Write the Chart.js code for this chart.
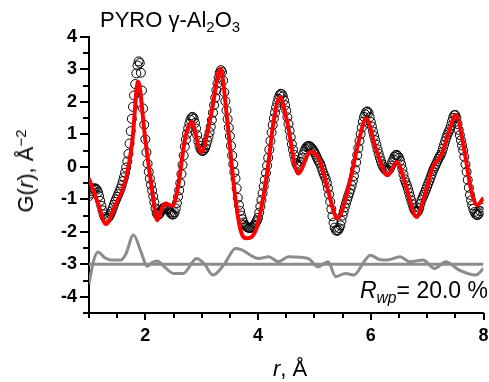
<!DOCTYPE html>
<html>
<head>
<meta charset="utf-8">
<script src="https://cdn.jsdelivr.net/npm/chart.js@4.4.1/dist/chart.umd.min.js"></script>
<style>
  html, body { margin: 0; padding: 0; background: #fff; }
  #wrap { position: relative; width: 489px; height: 382px; overflow: hidden; }
  #chart { position: absolute; left: 0; top: 0; }
  .lbl { position: absolute; white-space: nowrap; line-height: 1; color: #000;
         font-family: Arial, "Liberation Sans", Helvetica, sans-serif; }
  .sub { font-size: 0.68em; position: relative; top: 0.32em; }
  .sup { font-size: 0.68em; position: relative; top: -0.45em; }
  #title { left: 100px; top: 9px; font-size: 22px; }
  #ylab { left: 26px; top: 171px; font-size: 22px; transform: translate(-50%, -50%) rotate(-90deg); }
  #xlab { left: 290px; top: 358px; font-size: 22px; transform: translateX(-50%); }
  #rwp { right: 1px; top: 279px; font-size: 23px; }
</style>
</head>
<body>
<div id="wrap">
  <canvas id="chart" width="489" height="382"></canvas>
  <div class="lbl" id="title">PYRO γ-Al<span class="sub">2</span>O<span class="sub">3</span></div>
  <div class="lbl" id="ylab">G(<i>r</i>), Å<span class="sup">−2</span></div>
  <div class="lbl" id="xlab"><i>r</i>, Å</div>
  <div class="lbl" id="rwp"><i>R<span class="sub">wp</span></i>= 20.0 %</div>
</div>
<script>
// observed G(r), sampled every 0.02 A from r = 1.00 to 8.00 (one row = 0.5 A)
const rStart = 1.0;
const rStep = 0.02;
const gObs = [
  -0.90, -0.82, -0.75, -0.70, -0.67, -0.66, -0.67, -0.70, -0.78, -0.90, -1.05, -1.20, -1.34, -1.46, -1.55, -1.60, -1.60, -1.57, -1.52, -1.45, -1.37, -1.27, -1.17, -1.08, -1.00,
  -0.92, -0.84, -0.76, -0.67, -0.56, -0.44, -0.32, -0.18, -0.02, 0.17, 0.40, 0.72, 1.10, 1.48, 1.85, 2.20, 2.55, 2.88, 3.12, 3.25, 3.20, 2.90, 2.35, 1.80, 1.30,
  0.85, 0.45, 0.10, -0.15, -0.36, -0.55, -0.73, -0.91, -1.09, -1.28, -1.42, -1.48, -1.47, -1.42, -1.35, -1.30, -1.27, -1.25, -1.25, -1.27, -1.30, -1.35, -1.40, -1.44, -1.47,
  -1.46, -1.40, -1.28, -1.11, -0.92, -0.72, -0.50, -0.22, 0.06, 0.35, 0.62, 0.84, 1.02, 1.18, 1.33, 1.45, 1.52, 1.54, 1.48, 1.35, 1.18, 0.98, 0.80, 0.65, 0.55,
  0.50, 0.49, 0.52, 0.58, 0.68, 0.80, 0.93, 1.07, 1.24, 1.44, 1.67, 1.90, 2.13, 2.36, 2.57, 2.75, 2.90, 2.98, 2.92, 2.66, 2.30, 2.02, 1.74, 1.47, 1.21,
  0.95, 0.65, 0.35, 0.08, -0.16, -0.36, -0.66, -0.95, -1.18, -1.36, -1.50, -1.61, -1.71, -1.78, -1.82, -1.85, -1.87, -1.88, -1.88, -1.87, -1.85, -1.82, -1.78, -1.71, -1.65,
  -1.57, -1.41, -1.22, -1.02, -0.81, -0.60, -0.40, -0.19, 0.04, 0.28, 0.53, 0.80, 1.06, 1.29, 1.49, 1.67, 1.83, 1.97, 2.10, 2.20, 2.25, 2.24, 2.17, 2.05, 1.90,
  1.73, 1.53, 1.32, 1.12, 0.91, 0.70, 0.53, 0.37, 0.22, 0.10, 0.03, 0.02, 0.07, 0.16, 0.27, 0.38, 0.47, 0.55, 0.61, 0.64, 0.64, 0.63, 0.60, 0.56, 0.51,
  0.45, 0.38, 0.30, 0.22, 0.16, 0.10, 0.01, -0.10, -0.20, -0.28, -0.37, -0.50, -0.66, -0.85, -1.07, -1.30, -1.52, -1.72, -1.87, -1.95, -1.97, -1.95, -1.89, -1.80, -1.66,
  -1.50, -1.37, -1.24, -1.12, -1.01, -0.90, -0.80, -0.69, -0.57, -0.43, -0.28, -0.08, 0.14, 0.36, 0.58, 0.80, 1.01, 1.21, 1.39, 1.54, 1.62, 1.69, 1.71, 1.66, 1.53,
  1.38, 1.24, 1.09, 0.95, 0.82, 0.68, 0.54, 0.41, 0.29, 0.18, 0.08, 0.01, -0.05, -0.09, -0.12, -0.13, -0.10, -0.04, 0.04, 0.14, 0.23, 0.31, 0.36, 0.37, 0.34,
  0.28, 0.19, 0.07, -0.07, -0.23, -0.38, -0.48, -0.57, -0.68, -0.80, -0.92, -1.04, -1.15, -1.26, -1.34, -1.39, -1.40, -1.36, -1.27, -1.14, -1.02, -0.94, -0.86, -0.78, -0.69,
  -0.60, -0.51, -0.42, -0.33, -0.23, -0.13, -0.05, 0.02, 0.09, 0.17, 0.25, 0.31, 0.37, 0.45, 0.56, 0.68, 0.79, 0.90, 0.99, 1.07, 1.15, 1.26, 1.39, 1.51, 1.59,
  1.60, 1.50, 1.32, 1.14, 0.98, 0.82, 0.66, 0.51, 0.31, 0.08, -0.15, -0.40, -0.64, -0.86, -1.03, -1.18, -1.29, -1.39, -1.45, -1.48, -1.48, -1.44, -1.36, -1.25, -1.17,
  -1.13
];

// fitted curve
const rFit = [1.00, 1.08, 1.16, 1.30, 1.48, 1.65, 1.77, 1.87, 2.00, 2.12, 2.21, 2.30, 2.36, 2.48, 2.58,
  2.70, 2.82, 2.99, 3.17, 3.33, 3.46, 3.58, 3.69, 3.80, 3.98, 4.16, 4.27, 4.39, 4.51, 4.71,
  4.93, 5.09, 5.24, 5.41, 5.62, 5.79, 5.92, 6.08, 6.30, 6.46, 6.63, 6.81, 6.95, 7.10, 7.25,
  7.36, 7.51, 7.65, 7.77, 7.89, 8.00];
const gFit = [-0.36, -0.75, -1.13, -1.76, -1.13, -0.41, 0.82, 2.62, 0.82, -0.72, -1.64, -1.25, -1.13, -1.20, -0.62,
  0.82, 1.38, 0.45, 1.64, 3.03, 1.33, -0.72, -1.95, -2.20, -1.85, -0.20, 1.33, 2.15, 1.44, -0.20,
  0.46, 0.21, -0.72, -1.59, -0.51, 0.82, 1.49, 0.62, -0.26, 0.15, -0.62, -1.54, -0.92, 0.00, 0.36,
  0.92, 1.59, 0.62, -0.62, -1.18, -0.95];

// difference curve (already offset)
const diffBase = -3;
const rDiff = [1.00, 1.08, 1.16, 1.28, 1.39, 1.56, 1.65, 1.79, 1.92, 2.03, 2.12, 2.21, 2.35, 2.50, 2.67,
  2.91, 3.05, 3.20, 3.40, 3.60, 3.70, 4.01, 4.19, 4.36, 4.54, 4.89, 5.06, 5.24, 5.38, 5.55,
  5.70, 5.88, 5.99, 6.15, 6.29, 6.52, 6.69, 6.93, 7.13, 7.33, 7.57, 7.86, 8.00];
const gDiff = [-3.60, -2.90, -2.62, -2.80, -2.87, -2.87, -2.70, -2.10, -2.60, -3.06, -2.95, -2.90, -3.10, -3.28, -3.28,
  -2.82, -3.00, -3.33, -3.00, -2.51, -2.55, -2.82, -2.77, -2.92, -2.77, -2.82, -3.08, -2.92, -3.38, -3.28,
  -3.33, -2.92, -2.72, -2.85, -2.87, -2.77, -2.92, -2.87, -3.13, -2.92, -3.18, -3.33, -3.13];

const xMin = 1, xMax = 8;
const yMin = -4.5, yMax = 4;

const fontFam = 'Arial, "Liberation Sans", Helvetica, sans-serif';

function pairs(xs, ys) {
  return ys.map((v, i) => ({ x: xs[i], y: v }));
}

const obsPoints = gObs.map((v, i) => ({ x: rStart + i * rStep, y: v }));

function isWhole(v) {
  return Math.abs(v - Math.round(v)) < 1e-6;
}

const tickMarks = {
  id: "tickMarks",
  afterDraw(chart) {
    const ctx = chart.ctx;
    const x = chart.scales.x;
    const y = chart.scales.y;
    ctx.save();
    ctx.strokeStyle = "#000";
    ctx.lineWidth = 2;
    ctx.beginPath();
    x.ticks.forEach((t) => {
      const px = Math.round(x.getPixelForValue(t.value));
      const len = isWhole(t.value / 2) ? 7 : 5;
      ctx.moveTo(px, x.top);
      ctx.lineTo(px, x.top + len);
    });
    y.ticks.forEach((t) => {
      const py = Math.round(y.getPixelForValue(t.value));
      const len = isWhole(t.value) ? 9 : 6;
      ctx.moveTo(y.right, py);
      ctx.lineTo(y.right - len, py);
    });
    ctx.stroke();
    ctx.restore();
  },
};

const config = {
  type: "line",
  data: {
    datasets: [
      {
        label: "fit",
        data: pairs(rFit, gFit),
        borderColor: "#ff0000",
        borderWidth: 4,
        pointRadius: 0,
        cubicInterpolationMode: "monotone",
        order: 0,
      },
      {
        label: "obs",
        data: obsPoints,
        showLine: false,
        pointRadius: 4.5,
        pointBorderWidth: 1,
        pointBorderColor: "#000",
        pointBackgroundColor: "rgba(0,0,0,0)",
        order: 1,
      },
      {
        label: "diff",
        data: pairs(rDiff, gDiff),
        borderColor: "#8c8c8c",
        borderWidth: 3,
        pointRadius: 0,
        cubicInterpolationMode: "monotone",
        order: 2,
      },
      {
        label: "zero",
        data: [{ x: xMin, y: diffBase }, { x: xMax, y: diffBase }],
        borderColor: "#8c8c8c",
        borderWidth: 3,
        pointRadius: 0,
        order: 3,
      },
    ],
  },
  options: {
    responsive: false,
    animation: false,
    layout: { padding: { left: 0, right: 1, top: 37, bottom: 0 } },
    plugins: {
      legend: { display: false },
      tooltip: { enabled: false },
    },
    scales: {
      x: {
        type: "linear",
        min: xMin,
        max: xMax,
        grid: { display: false, drawTicks: false },
        border: { display: true, color: "#000", width: 2 },
        ticks: {
          stepSize: 0.5,
          autoSkip: false,
          maxRotation: 0,
          padding: 12,
          color: "#000",
          font: { family: fontFam, size: 18, weight: "bold" },
          callback: (v) => (isWhole(v / 2) ? String(v) : ""),
        },
        afterFit: (scale) => {
          scale.height = 69;
          scale.paddingLeft = 0;
          scale.paddingRight = 0;
        },
      },
      y: {
        min: yMin,
        max: yMax,
        grid: { display: false, drawTicks: false },
        border: { display: true, color: "#000", width: 2 },
        ticks: {
          stepSize: 0.5,
          autoSkip: false,
          padding: 12,
          color: "#000",
          font: { family: fontFam, size: 18, weight: "bold" },
          callback: (v) => (isWhole(v) ? String(v) : ""),
        },
        afterFit: (scale) => {
          scale.width = 89;
          scale.paddingTop = 0;
          scale.paddingBottom = 0;
        },
      },
    },
  },
  plugins: [tickMarks],
};

new Chart(document.getElementById("chart"), config);
</script>
</body>
</html>
